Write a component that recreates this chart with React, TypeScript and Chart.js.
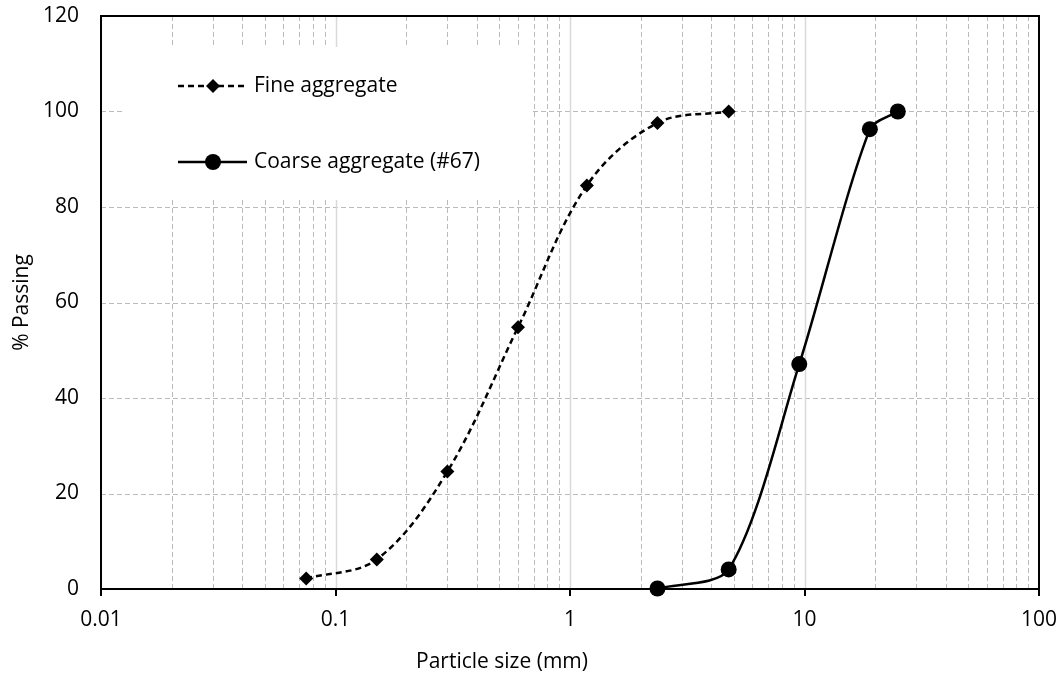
import React, { useEffect, useRef } from "react";
import { Chart, registerables } from "chart.js";

Chart.register(...registerables);

// ---- data ----
const fineSizes = [0.075, 0.15, 0.3, 0.6, 1.18, 2.36, 4.75];
const finePassing = [2.2, 6.2, 24.6, 54.8, 84.5, 97.6, 100];
const coarseSizes = [2.36, 4.75, 9.5, 19, 25];
const coarsePassing = [0.1, 4.1, 47.1, 96.3, 100];
const xMajorTicks = [0.01, 0.1, 1, 10, 100];
const xMinorMultipliers = [2, 3, 4, 5, 6, 7, 8, 9];
const yTicks = [0, 20, 40, 60, 80, 100, 120];
const seriesNames = ["Fine aggregate", "Coarse aggregate (#67)"];
const xTitle = "Particle size (mm)";
const yTitle = "% Passing";

const FONT_FAMILY = '"Open Sans", sans-serif';
const FONT_SIZE = 21;

const gridPlugin = {
  id: "customGrid",
  beforeDatasetsDraw(chart: any) {
    const { ctx, chartArea: a, scales } = chart;
    const xs = scales.x;
    const ys = scales.y;
    ctx.save();
    ctx.lineWidth = 1;
    // horizontal dashed grid
    ctx.strokeStyle = "#bababa";
    ctx.setLineDash([5, 3]);
    for (const v of yTicks) {
      if (v === yTicks[0] || v === yTicks[yTicks.length - 1]) continue;
      const py = Math.round(ys.getPixelForValue(v)) + 0.5;
      ctx.beginPath();
      ctx.moveTo(a.left, py);
      ctx.lineTo(a.right, py);
      ctx.stroke();
    }
    // minor vertical dashed grid
    for (let i = 0; i < xMajorTicks.length - 1; i++) {
      for (const m of xMinorMultipliers) {
        const px = Math.round(xs.getPixelForValue(xMajorTicks[i] * m)) + 0.5;
        ctx.beginPath();
        ctx.moveTo(px, a.top);
        ctx.lineTo(px, a.bottom);
        ctx.stroke();
      }
    }
    // major vertical solid grid
    ctx.setLineDash([]);
    ctx.strokeStyle = "#d9d9d9";
    ctx.lineWidth = 1.5;
    for (const v of xMajorTicks.slice(1, -1)) {
      const px = Math.round(xs.getPixelForValue(v)) + 0.5;
      ctx.beginPath();
      ctx.moveTo(px, a.top);
      ctx.lineTo(px, a.bottom);
      ctx.stroke();
    }
    // legend background (white, no border)
    ctx.fillStyle = "#ffffff";
    ctx.fillRect(a.left + 22, a.top + 31, 407, 153);

    // plot border
    ctx.strokeStyle = "#000000";
    ctx.lineWidth = 2;
    ctx.strokeRect(a.left, a.top, a.right - a.left, a.bottom - a.top);
    // x tick marks
    for (const v of xMajorTicks) {
      const px = Math.round(xs.getPixelForValue(v));
      ctx.beginPath();
      ctx.moveTo(px, a.bottom);
      ctx.lineTo(px, a.bottom + 7);
      ctx.stroke();
    }
    ctx.restore();
  },
  afterDraw(chart: any) {
    const { ctx, chartArea: a } = chart;
    ctx.save();
    ctx.fillStyle = "#000";
    ctx.strokeStyle = "#000";
    ctx.font = `${FONT_SIZE}px ${FONT_FAMILY}`;
    ctx.textBaseline = "middle";

    // legend
    const rows = [a.top + 70, a.top + 146];
    const lx1 = a.left + 77;
    const lx2 = a.left + 146;
    const mx = a.left + 112;
    seriesNames.forEach((name, i) => {
      const ry = rows[i];
      ctx.lineWidth = 2.5;
      ctx.setLineDash(i === 0 ? [6, 4] : []);
      ctx.beginPath();
      ctx.moveTo(lx1, ry);
      ctx.lineTo(lx2, ry);
      ctx.stroke();
      ctx.setLineDash([]);
      ctx.beginPath();
      if (i === 0) {
        const r = 7;
        ctx.moveTo(mx, ry - r);
        ctx.lineTo(mx + r, ry);
        ctx.lineTo(mx, ry + r);
        ctx.lineTo(mx - r, ry);
        ctx.closePath();
      } else {
        ctx.arc(mx, ry, 8, 0, Math.PI * 2);
      }
      ctx.fill();
      ctx.textAlign = "left";
      ctx.fillText(name, a.left + 153, ry);
    });

    // axis titles
    ctx.textAlign = "center";
    ctx.fillText(xTitle, 502, 662);
    ctx.translate(22, (a.top + a.bottom) / 2);
    ctx.rotate(-Math.PI / 2);
    ctx.fillText(yTitle, 0, 0);
    ctx.restore();
  },
};

export default function App() {
  const canvasRef = useRef<HTMLCanvasElement | null>(null);

  useEffect(() => {
    document.body.style.margin = "0";
    const canvas = canvasRef.current;
    if (!canvas) return;
    Chart.defaults.font.family = FONT_FAMILY;
    Chart.defaults.font.size = FONT_SIZE;
    Chart.defaults.color = "#000";

    const hiddenGrid = (len: number) => ({
      display: true,
      drawOnChartArea: false,
      drawTicks: true,
      tickLength: len,
      color: "rgba(0,0,0,0)",
    });

    const chart = new Chart(canvas, {
      type: "line",
      data: {
        datasets: [
          {
            label: seriesNames[0],
            data: fineSizes.map((x, i) => ({ x, y: finePassing[i] })),
            borderColor: "#000",
            backgroundColor: "#000",
            borderWidth: 2.5,
            borderDash: [6, 4],
            pointStyle: "rectRot",
            pointRadius: 7,
            pointBorderWidth: 0,
            tension: 0.35,
            fill: false,
            clip: false as any,
          },
          {
            label: seriesNames[1],
            data: coarseSizes.map((x, i) => ({ x, y: coarsePassing[i] })),
            borderColor: "#000",
            backgroundColor: "#000",
            borderWidth: 2.5,
            pointStyle: "circle",
            pointRadius: 8,
            pointBorderWidth: 0,
            tension: 0.28,
            fill: false,
            clip: false as any,
          },
        ],
      },
      options: {
        responsive: false,
        animation: false,
        events: [],
        layout: { autoPadding: false, padding: { left: 0, right: 21, top: 16, bottom: 0 } },
        plugins: {
          legend: { display: false },
          tooltip: { enabled: false },
          title: { display: false },
        },
        scales: {
          x: {
            type: "logarithmic",
            min: xMajorTicks[0],
            max: xMajorTicks[xMajorTicks.length - 1],
            grid: hiddenGrid(18) as any,
            border: { display: false },
            afterBuildTicks: (s: any) => {
              s.ticks = xMajorTicks.map((v) => ({ value: v }));
            },
            afterFit: (s: any) => {
              s.height = 92;
            },
            ticks: {
              autoSkip: false,
              maxRotation: 0,
              padding: 0,
              callback: (v: any) => String(v),
            },
          },
          y: {
            type: "linear",
            min: yTicks[0],
            max: yTicks[yTicks.length - 1],
            grid: hiddenGrid(22) as any,
            border: { display: false },
            afterBuildTicks: (s: any) => {
              s.ticks = yTicks.map((v) => ({ value: v }));
            },
            afterFit: (s: any) => {
              s.width = 101;
            },
            ticks: { padding: 0 },
          },
        },
      },
      plugins: [gridPlugin],
    });
    return () => chart.destroy();
  }, []);

  return (
    <div
      style={{
        position: "fixed",
        left: 0,
        top: 0,
        width: 1060,
        height: 681,
        background: "#fff",
      }}
    >
      <canvas ref={canvasRef} width={1060} height={681} style={{ display: "block" }} />
    </div>
  );
}
